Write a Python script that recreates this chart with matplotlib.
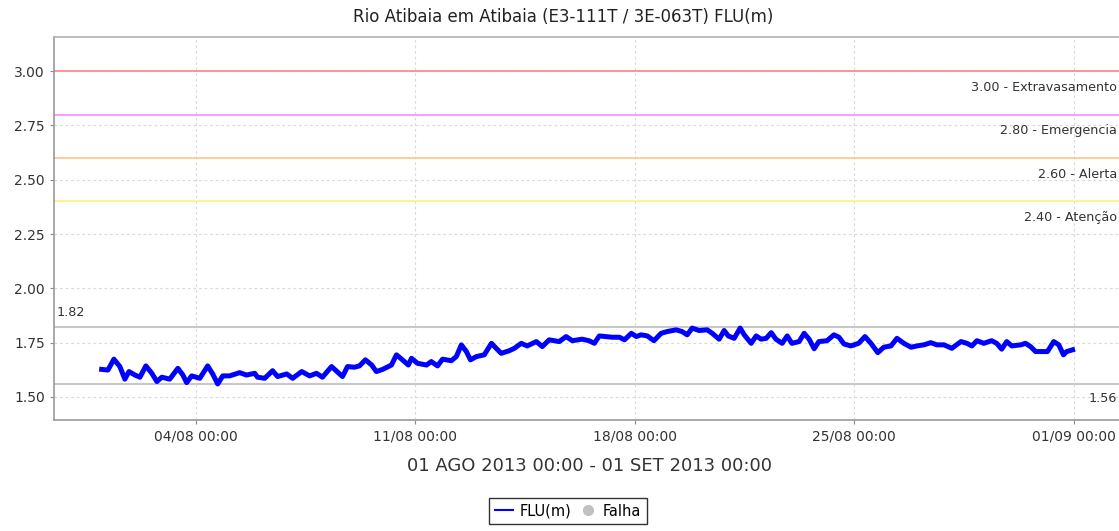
import datetime as dt
import matplotlib
matplotlib.use("Agg")
import matplotlib.pyplot as plt
import matplotlib.dates as mdates
from matplotlib.lines import Line2D

# dias desde 01/08/2013 00:00 e nivel (m)
dias = [0.00, 0.20, 0.39, 0.58, 0.74, 0.87, 1.06, 1.22, 1.41, 1.60, 1.76, 1.92,
        2.17, 2.43, 2.59, 2.71, 2.87, 3.13, 3.38, 3.54, 3.70, 3.86, 4.08, 4.40,
        4.62, 4.88, 4.97, 5.20, 5.45, 5.61, 5.90, 6.09, 6.38, 6.63, 6.85, 7.04,
        7.33, 7.43, 7.68, 7.84, 8.06, 8.22, 8.41, 8.61, 8.76, 8.96, 9.24, 9.40,
        9.59, 9.78, 9.88, 10.07, 10.36, 10.51, 10.71, 10.87, 11.15, 11.31, 11.47,
        11.63, 11.76, 11.95, 12.20, 12.43, 12.58, 12.74, 13.00, 13.16, 13.38,
        13.57, 13.86, 14.05, 14.27, 14.59, 14.81, 15.01, 15.20, 15.32, 15.54,
        15.71, 15.87, 16.09, 16.28, 16.51, 16.67, 16.89, 17.05, 17.20, 17.40,
        17.61, 17.84, 18.03, 18.32, 18.51, 18.67, 18.83, 19.05, 19.31, 19.47,
        19.69, 19.85, 19.98, 20.17, 20.36, 20.49, 20.71, 20.87, 21.03, 21.19,
        21.35, 21.50, 21.70, 21.86, 22.01, 22.24, 22.40, 22.56, 22.72, 22.87,
        23.13, 23.35, 23.51, 23.67, 23.89, 24.14, 24.34, 24.53, 24.75, 24.94,
        25.17, 25.36, 25.58, 25.81, 26.00, 26.22, 26.44, 26.63, 26.86, 27.11,
        27.40, 27.59, 27.75, 27.91, 28.13, 28.38, 28.54, 28.70, 28.86, 29.02,
        29.31, 29.46, 29.62, 29.78, 29.97, 30.16, 30.36, 30.52, 30.67, 30.77,
        30.96]
nivel = [1.627, 1.624, 1.674, 1.640, 1.582, 1.617, 1.601, 1.591, 1.643, 1.609,
         1.571, 1.591, 1.582, 1.632, 1.601, 1.566, 1.597, 1.586, 1.643, 1.606,
         1.560, 1.597, 1.597, 1.612, 1.601, 1.609, 1.591, 1.586, 1.621, 1.594,
         1.606, 1.586, 1.617, 1.597, 1.609, 1.591, 1.640, 1.627, 1.594, 1.640,
         1.637, 1.643, 1.671, 1.647, 1.617, 1.627, 1.647, 1.694, 1.671, 1.647,
         1.678, 1.655, 1.647, 1.663, 1.643, 1.674, 1.667, 1.686, 1.740, 1.709,
         1.671, 1.686, 1.694, 1.747, 1.724, 1.701, 1.713, 1.724, 1.747, 1.735,
         1.755, 1.732, 1.763, 1.755, 1.778, 1.759, 1.763, 1.766, 1.759, 1.747,
         1.781, 1.778, 1.775, 1.775, 1.763, 1.793, 1.778, 1.786, 1.781, 1.759,
         1.793, 1.801, 1.809, 1.801, 1.786, 1.817, 1.806, 1.809, 1.793, 1.766,
         1.806, 1.781, 1.770, 1.817, 1.786, 1.747, 1.781, 1.766, 1.770, 1.796,
         1.766, 1.747, 1.781, 1.747, 1.755, 1.793, 1.766, 1.722, 1.755, 1.759,
         1.786, 1.775, 1.744, 1.735, 1.747, 1.778, 1.747, 1.704, 1.729, 1.735,
         1.770, 1.747, 1.729, 1.735, 1.740, 1.750, 1.740, 1.740, 1.724, 1.755,
         1.747, 1.735, 1.759, 1.747, 1.759, 1.747, 1.720, 1.755, 1.735, 1.740,
         1.747, 1.732, 1.709, 1.709, 1.709, 1.755, 1.740, 1.694, 1.709, 1.717]

# cotas de referencia
cotas = [3.00, 2.80, 2.60, 2.40]
nomes_cotas = ["Extravasamento", "Emergencia", "Alerta", "Atenção"]
cores_cotas = ["#ff8c8c", "#ff90ff", "#ffc890", "#fff08c"]
nivel_max = 1.82
nivel_min = 1.56

inicio = dt.datetime(2013, 8, 1)
tempos = [inicio + dt.timedelta(days=d) for d in dias]
ticks_x = [dt.datetime(2013, 8, 4), dt.datetime(2013, 8, 11), dt.datetime(2013, 8, 18),
           dt.datetime(2013, 8, 25), dt.datetime(2013, 9, 1)]
ticks_y = [1.50, 1.75, 2.00, 2.25, 2.50, 2.75, 3.00]

W, H = 1119, 531
fig = plt.figure(figsize=(W / 100, H / 100), dpi=100)
ax = fig.add_axes([54 / W, 1 - 420 / H, (1124 - 54) / W, (420 - 37) / H])

for c, cor in zip(cotas, cores_cotas):
    ax.axhline(c, color=cor, lw=1.3, zorder=2)
ax.axhline(nivel_max, color="#c8c8c8", lw=1.5, zorder=2)
ax.axhline(nivel_min, color="#c8c8c8", lw=1.5, zorder=2)

ax.plot(tempos, nivel, color="#0000ff", lw=3.6, solid_joinstyle="round", zorder=3)

ax.set_xlim(inicio - dt.timedelta(days=1.52), inicio + dt.timedelta(days=32.6))
ax.set_ylim(1.394, 3.157)
ax.set_xticks(ticks_x)
ax.xaxis.set_major_formatter(mdates.DateFormatter("%d/%m %H:%M"))
ax.set_yticks(ticks_y)
ax.set_yticklabels(["%.2f" % v for v in ticks_y])
ax.grid(True, color="#dadada", ls=(0, (2.5, 2.5)), lw=0.8)
ax.set_axisbelow(True)
ax.tick_params(labelsize=10, colors="#333333", length=3, color="#888888")
for s in ["left", "bottom"]:
    ax.spines[s].set_color("#999999")
    ax.spines[s].set_linewidth(1.2)
ax.spines["top"].set_color("#b0b0b0")
ax.spines["top"].set_linewidth(1.2)
ax.spines["right"].set_visible(False)

# rotulos das cotas (alinhados a direita, abaixo da linha)
xr = 1117 / W
for c, n in zip(cotas, nomes_cotas):
    yl = ax.transData.transform((0, c))[1] / H
    fig.text(xr, yl - 16 / H, "%.2f - %s" % (c, n), ha="right", va="center",
             fontsize=9.2, color="#333333")
y82 = ax.transData.transform((0, nivel_max))[1] / H
fig.text(57 / W, y82 + 15 / H, "%.2f" % nivel_max, ha="left", va="center",
         fontsize=9.2, color="#333333")
y56 = ax.transData.transform((0, nivel_min))[1] / H
fig.text(xr, y56 - 15 / H, "%.2f" % nivel_min, ha="right", va="center",
         fontsize=9.2, color="#333333")

fig.text(563 / W, 1 - 17 / H, "Rio Atibaia em Atibaia (E3-111T / 3E-063T) FLU(m)",
         ha="center", va="center", fontsize=12, color="#222222")
fig.text(589 / W, 1 - 466 / H, "01 AGO 2013 00:00 - 01 SET 2013 00:00",
         ha="center", va="center", fontsize=13, color="#333333")

handles = [Line2D([], [], color="#0000ff", lw=1.5),
           Line2D([], [], ls="none", marker="o", color="#c0c0c0", markersize=7)]
leg = fig.legend(handles, ["FLU(m)", "Falha"], loc="center",
                 bbox_to_anchor=(568 / W, 1 - 511 / H), ncol=2, fontsize=10.5,
                 frameon=True, fancybox=False, handlelength=1.3, handletextpad=0.4,
                 columnspacing=0.5, borderpad=0.35, edgecolor="black")
leg.get_frame().set_linewidth(1.0)

fig.savefig("out.png", dpi=100)
